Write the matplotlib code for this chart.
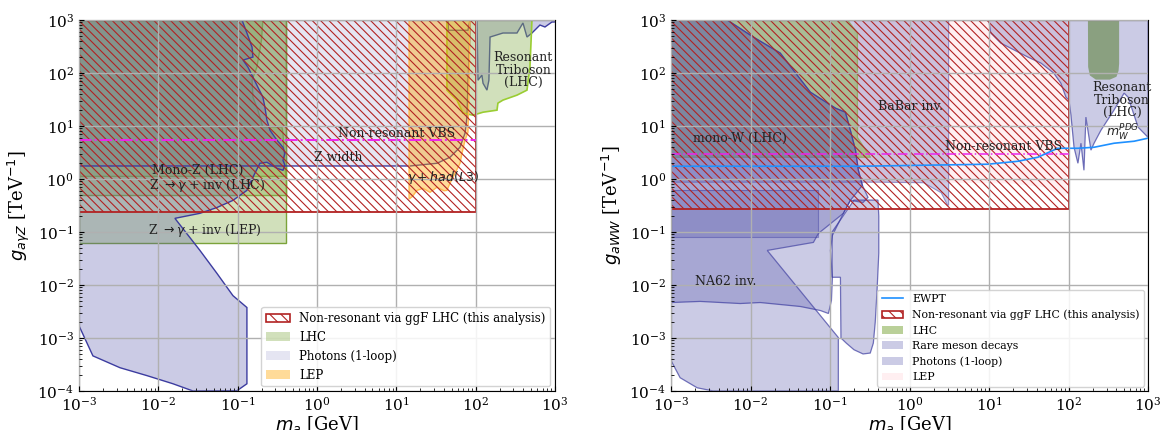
import matplotlib
matplotlib.use('Agg')
import matplotlib.pyplot as plt
from matplotlib.patches import Patch
from matplotlib.lines import Line2D

plt.rcParams['font.family'] = ['DejaVu Serif']
plt.rcParams['mathtext.fontset'] = 'dejavusans'
plt.rcParams['hatch.linewidth'] = 0.8

# ---------------- data: left panel (g_aγZ) ----------------
ggf_z_x = [1e-3, 100.0]
ggf_z_low = 0.24
vbs_z = 5.4
top_val = 1000.0

# Photons (1-loop), lower region
ph1_z_x = [1e-3, 0.1135, 0.131, 0.152, 0.156, 0.117, 0.135, 0.156, 0.180, 0.208, 0.221, 0.234, 0.256,
           0.313, 0.373, 0.395, 0.373, 0.395, 0.373, 0.313, 0.234, 0.191, 0.156, 0.131, 0.0873, 0.055,
           0.0335, 0.0162, 0.0335, 0.055, 0.0873, 0.131, 0.131, 0.098, 0.0274, 0.0153, 7.2e-3, 3.29e-3,
           1.5e-3, 1e-3]
ph1_z_y = [1000, 1000, 568, 309, 200, 175, 129, 83.6, 54, 35, 22.6, 12.9, 8.3,
           5.4, 3.97, 3.06, 2.25, 1.81, 1.46, 1.59, 2.07, 1.98, 1.08, 0.61, 0.395, 0.29,
           0.225, 0.181, 0.0449, 0.0165, 6.3e-3, 3.76e-3, 1.37e-4, 1.01e-4, 1e-4, 1.37e-4, 1.95e-4, 2.75e-4,
           4.6e-4, 1.71e-3]
# Photons (1-loop), Z width region
ph2_z_x = [1e-3, 14.9, 32.6, 47.5, 63.5, 73.5, 77.8, 80, 85, 85, 80, 45.5, 44.8, 1e-3]
ph2_z_y = [1.76, 1.76, 1.98, 2.57, 3.97, 7.3, 14.7, 64, 568, 1000, 640, 640, 1000, 1000]
# Photons (1-loop), high mass pieces
ph3_z_x = [104, 107, 120, 124, 139, 147, 152, 221, 332, 395, 444, 513, 647, 748, 916, 1000, 1000]
ph3_z_y = [1000, 73, 91, 64, 47.5, 73, 477, 568, 568, 878, 477, 568, 804, 738, 916, 916, 1000]

# LHC
monoz_x = [1e-3, 0.406, 0.395, 0.373, 0.362, 0.208, 0.180, 0.156, 0.152, 0.175, 0.200, 0.208, 1e-3]
monoz_y = [1.12, 1.12, 1.66, 7.3, 9.5, 9.5, 19.9, 35, 73.5, 129, 419, 1000, 1000]
zinv_lhc_x = [1e-3, 0.406]
zinv_lhc_y = [0.49, 1000]
zinv_lep_x = [1e-3, 0.406]
zinv_lep_y = [0.061, 1000]
tri_z_x = [43.5, 43.5, 58.2, 69.3, 92.7, 124, 186, 191, 221, 332, 444, 484, 513]
tri_z_y = [1000, 47.5, 30.8, 17.5, 16, 18.2, 19.9, 27, 30.8, 38.2, 47.5, 129, 1000]

# LEP (L3)
l3_x = [14.5, 14.5, 16, 18.2, 21.7, 26.6, 32.6, 40, 43.5, 47.5, 63.6, 67.3, 73.5, 80, 82, 85]
l3_y = [1000, 0.42, 0.47, 0.61, 0.667, 0.56, 0.70, 0.60, 0.61, 0.83, 1.98, 3.06, 5.4, 7.6, 30.8, 1000]

# ---------------- data: right panel (g_aWW) ----------------
ggf_w_x = [1e-3, 100.0]
ggf_w_low = 0.27
vbs_w = 2.97

ewpt_x = [1e-3, 0.24, 9.6, 23, 41, 56.5, 73, 131, 209, 373, 667, 1000]
ewpt_y = [1.74, 1.74, 1.9, 2.16, 2.57, 3.2, 3.8, 3.8, 3.97, 4.73, 5.16, 5.9]

monow_x = [1e-3, 0.323, 0.221, 0.221, 0.166, 1e-3]
monow_y = [2.57, 2.57, 6.1, 570, 1000, 1000]
tri_w_x = [175, 176, 185, 220, 330, 400, 425, 432, 432]
tri_w_y = [1000, 130, 90, 75, 75, 85, 110, 150, 1000]

ph_w_x = [1e-3, 5.08e-3, 0.0108, 0.0236, 0.0565, 0.117, 0.156, 0.18, 0.209, 0.227, 0.255, 0.30, 0.26,
          0.18, 0.147, 0.0713, 0.0617, 0.0162, 0.127, 0.127, 3.39e-3, 2.13e-3, 1.3e-3, 1e-3]
ph_w_y = [1000, 1000, 478, 238, 43.5, 21.7, 18.2, 8.3, 3.49, 1.46, 0.76, 0.45, 0.36,
          0.395, 0.225, 0.094, 0.0636, 0.0449, 1.02e-3, 1e-4, 1e-4, 1.15e-4, 1.78e-4, 3.74e-4]
ph_w_tr_x = [9.9, 10.5, 14, 30.7, 44.8, 65, 80, 92.5, 101, 107, 117, 131, 143, 156, 165, 191, 209, 255,
             372, 499, 560, 748, 1000, 1000]
ph_w_tr_y = [1000, 568, 367, 200, 154, 99.5, 64, 35, 30.7, 16, 3.97, 1.98, 4.73, 1.46, 14.7, 3.5, 4.73,
             8.3, 19.9, 41.7, 35, 9.5, 6.1, 1000]

na62_x = [1e-3, 2.32e-3, 7.4e-3, 0.0132, 0.0423, 0.0755, 0.0953, 0.104, 0.107, 0.101, 0.107, 0.147,
          0.18, 0.255, 0.227, 0.209, 0.18, 0.156, 0.117, 0.0565, 0.0236, 0.0108, 5.08e-3, 1e-3]
na62_y = [4.67e-3, 4.9e-3, 4.47e-3, 4.67e-3, 3.93e-3, 3.3e-3, 2.9e-3, 5.1e-3, 0.0139, 0.0449, 0.0863,
          0.225, 0.395, 0.76, 1.46, 3.49, 8.3, 18.2, 21.7, 43.5, 238, 478, 1000, 1000]
kbox_x = [1e-3, 0.071]
kbox_y = [0.079, 0.61]
blob_x = [0.106, 0.135, 0.137, 0.16, 0.2, 0.26, 0.32, 0.35, 0.37, 0.39, 0.41, 0.41, 0.40, 0.2, 0.106]
blob_y = [0.014, 0.014, 1e-3, 8e-4, 6e-4, 5e-4, 5.2e-4, 8e-4, 2e-3, 8e-3, 0.04, 0.2, 0.4, 0.4, 0.1]
babar_x = [1e-3, 0.43, 1.5, 2.5, 3.0, 3.1, 3.1, 1e-3]
babar_y = [0.87, 0.87, 0.85, 0.55, 0.32, 0.32, 1000, 1000]
lep_w_x = [0.2, 3.1, 20, 50, 70, 85, 95, 95, 0.2]
lep_w_y = [0.85, 0.85, 0.82, 0.7, 0.55, 0.45, 0.5, 1000, 1000]

# ---------------- styles ----------------
PH_FC = '#5555aa'
PH_EC = '#3c3ca0'
LHC_FC = '#8db255'
LHC_EC = '#7ba33a'
TRI_EC = '#9acd32'
LEP_FC = '#ffa500'
HATCH_C = '#b22222'
VBS_C = '#ee22ee'
HATCH = '\\' * 4

fig = plt.figure(figsize=(11.61, 4.30), dpi=100)
ax1 = fig.add_axes([0.068, 0.0907, 0.410, 0.8628])
ax2 = fig.add_axes([0.578, 0.0907, 0.4109, 0.8628])


def box(ax, xs, ys, **kw):
    ax.fill([xs[0], xs[1], xs[1], xs[0]], [ys[0], ys[0], ys[1], ys[1]], **kw)


# ----- left panel -----
ax = ax1
ax.fill(monoz_x, monoz_y, facecolor=LHC_FC, alpha=0.4, edgecolor='none')
ax.fill(monoz_x, monoz_y, facecolor='none', edgecolor=LHC_EC, lw=1.0)
box(ax, zinv_lhc_x, zinv_lhc_y, facecolor=LHC_FC, alpha=0.4, edgecolor='none')
box(ax, zinv_lhc_x, zinv_lhc_y, facecolor='none', edgecolor=LHC_EC, lw=1.0)
box(ax, zinv_lep_x, zinv_lep_y, facecolor=LHC_FC, alpha=0.4, edgecolor='none')
box(ax, zinv_lep_x, zinv_lep_y, facecolor='none', edgecolor=LHC_EC, lw=1.0)
ax.fill(ph1_z_x, ph1_z_y, facecolor=PH_FC, alpha=0.3, edgecolor='none')
ax.fill(ph1_z_x, ph1_z_y, facecolor='none', edgecolor=PH_EC, lw=1.0)
ax.fill(ph2_z_x, ph2_z_y, facecolor=PH_FC, alpha=0.15, edgecolor='none')
ax.fill(ph2_z_x, ph2_z_y, facecolor='none', edgecolor=PH_EC, lw=1.0)
ax.fill(ph3_z_x, ph3_z_y, facecolor=PH_FC, alpha=0.3, edgecolor='none')
ax.fill(ph3_z_x, ph3_z_y, facecolor='none', edgecolor=PH_EC, lw=1.0)
ax.fill(tri_z_x, tri_z_y, facecolor=LHC_FC, alpha=0.4, edgecolor='none')
ax.fill(tri_z_x, tri_z_y, facecolor='none', edgecolor=TRI_EC, lw=1.2)
ax.fill(l3_x, l3_y, facecolor=LEP_FC, alpha=0.4, edgecolor='none')
ax.fill(l3_x, l3_y, facecolor='none', edgecolor='#ffb84d', lw=1.0)
ax.fill_between(ggf_z_x, ggf_z_low, top_val, facecolor='none', edgecolor=HATCH_C,
                hatch=HATCH, lw=1.3)
ax.plot(ggf_z_x, [vbs_z, vbs_z], color=VBS_C, ls='-.', lw=1.4)

tk = dict(fontsize=9, ha='center', va='center', color='#222222')
ax.text(0.031, 1.46, 'Mono-Z (LHC)', **tk)
ax.text(0.041, 0.76, r'Z $\rightarrow\gamma$ + inv (LHC)', **tk)
ax.text(0.039, 0.107, r'Z $\rightarrow\gamma$ + inv (LEP)', **tk)
ax.text(10.2, 7.3, 'Non-resonant VBS', **tk)
ax.text(1.85, 2.57, 'Z width', **tk)
ax.text(39, 1.08, r'$\gamma + had(L3)$', **tk)
ax.text(400, 113, 'Resonant\nTriboson\n(LHC)', linespacing=0.95, **tk)

h1 = [Patch(facecolor='none', edgecolor=HATCH_C, hatch='\\' * 3, lw=1.2,
            label='Non-resonant via ggF LHC (this analysis)'),
      Patch(facecolor=LHC_FC, alpha=0.4, edgecolor='none', label='LHC'),
      Patch(facecolor=PH_FC, alpha=0.15, edgecolor='none', label='Photons (1-loop)'),
      Patch(facecolor=LEP_FC, alpha=0.4, edgecolor='none', label='LEP')]
ax.legend(handles=h1, loc='lower right', fontsize=8.5, framealpha=0.85, borderaxespad=0.4)
ax.set_ylabel(r'$g_{a\gamma Z}$ [TeV$^{-1}$]', fontsize=13)

# ----- right panel -----
ax = ax2
ax.fill(lep_w_x, lep_w_y, facecolor='pink', alpha=0.25, edgecolor='none')
ax.fill(babar_x, babar_y, facecolor=PH_FC, alpha=0.3, edgecolor='none')
ax.fill(babar_x, babar_y, facecolor='none', edgecolor=PH_EC, lw=0.8, alpha=0.5)
ax.fill(monow_x, monow_y, facecolor=LHC_FC, alpha=0.55, edgecolor='none')
ax.fill(monow_x, monow_y, facecolor='none', edgecolor=LHC_EC, lw=0.9, alpha=0.6)
for xs, ys in [(ph_w_x, ph_w_y), (ph_w_tr_x, ph_w_tr_y), (na62_x, na62_y), (blob_x, blob_y)]:
    ax.fill(xs, ys, facecolor=PH_FC, alpha=0.3, edgecolor='none')
    ax.fill(xs, ys, facecolor='none', edgecolor=PH_EC, lw=0.9, alpha=0.7)
box(ax, kbox_x, kbox_y, facecolor=PH_FC, alpha=0.3, edgecolor='none')
box(ax, kbox_x, kbox_y, facecolor='none', edgecolor=PH_EC, lw=0.8, alpha=0.5)
ax.fill(tri_w_x, tri_w_y, facecolor='#6f8f55', alpha=0.7, edgecolor='none')
ax.fill_between(ggf_w_x, ggf_w_low, top_val, facecolor='none', edgecolor=HATCH_C,
                hatch=HATCH, lw=1.3)
ax.plot(ggf_w_x, [vbs_w, vbs_w], color=VBS_C, ls='-.', lw=1.1)
ax.plot(ewpt_x, ewpt_y, color='#1e90ff', lw=1.2)

ax.text(7.4e-3, 5.9, 'mono-W (LHC)', **tk)
ax.text(1.03, 23.7, 'BaBar inv.', **tk)
ax.text(15.3, 4.15, 'Non-resonant VBS', **tk)
ax.text(4.8e-3, 0.0116, 'NA62 inv.', **tk)
ax.text(471, 30.8, 'Resonant\nTriboson\n(LHC)', linespacing=0.95, **tk)
ax.text(480, 7.3, r'$m_W^{PDG}$', **tk)

h2 = [Line2D([], [], color='#1e90ff', lw=1.2, label='EWPT'),
      Patch(facecolor='none', edgecolor=HATCH_C, hatch='\\' * 3, lw=1.2,
            label='Non-resonant via ggF LHC (this analysis)'),
      Patch(facecolor=LHC_FC, alpha=0.6, edgecolor='none', label='LHC'),
      Patch(facecolor=PH_FC, alpha=0.3, edgecolor='none', label='Rare meson decays'),
      Patch(facecolor=PH_FC, alpha=0.3, edgecolor='none', label='Photons (1-loop)'),
      Patch(facecolor='pink', alpha=0.25, edgecolor='none', label='LEP')]
ax.legend(handles=h2, loc='lower right', fontsize=7.8, framealpha=0.85, borderaxespad=0.4)
ax.set_ylabel(r'$g_{aWW}$ [TeV$^{-1}$]', fontsize=13)

for ax in (ax1, ax2):
    ax.set_xscale('log')
    ax.set_yscale('log')
    ax.set_xlim(1e-3, 1e3)
    ax.set_ylim(1e-4, 1e3)
    ax.set_axisbelow(False)
    ax.grid(True, which='major', color='#b0b0b0', lw=1.0)
    ax.tick_params(which='both', direction='in', labelsize=11)
    ax.set_xlabel(r'$m_a$ [GeV]', fontsize=13, labelpad=0)

fig.savefig('out.png', dpi=100)
